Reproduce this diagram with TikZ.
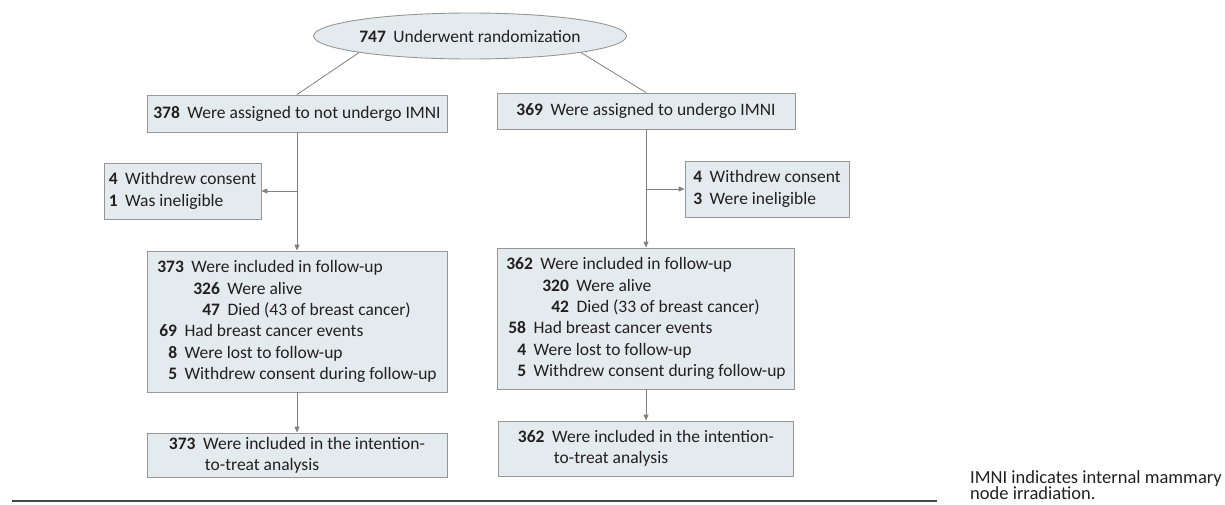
\documentclass[tikz,border=0pt]{standalone}
\usepackage{fontspec}
\setmainfont{Carlito}
\usetikzlibrary{shapes.geometric,arrows.meta}
\definecolor{boxfill}{RGB}{228,235,238}
\definecolor{boxline}{RGB}{150,150,150}
\definecolor{arrline}{RGB}{128,128,128}
\definecolor{rulegray}{RGB}{70,70,70}
\definecolor{txt}{RGB}{35,31,32}
\newcommand{\cnt}[1]{\textbf{#1}\hspace{7.5pt}}

\begin{document}
\begin{tikzpicture}[x=1pt,y=-1pt,
  every node/.style={font=\fontsize{17.5}{21.3}\selectfont,text=txt},
  box/.style={draw=boxline,fill=boxfill,line width=0.9pt,inner sep=0pt,align=left},
  arr/.style={draw=arrline,line width=0.9pt,-{Triangle[length=6pt,width=5pt]}},
  link/.style={draw=arrline,line width=0.8pt}]
 \useasboundingbox (0,0) rectangle (1225,504);
 % randomization
 \node[box,ellipse,minimum width=256pt,minimum height=46pt] (rand) at (470,36) {\cnt{747}Underwent randomization};
 % the two arms
 \node[box,align=center,minimum width=300pt,minimum height=37pt] (armA) at (297,113.5) {\cnt{378}Were assigned to not undergo IMNI};
 \node[box,align=center,minimum width=298pt,minimum height=36pt] (armB) at (646,111) {\cnt{369}Were assigned to undergo IMNI};
 % exclusions
 \node[box,minimum width=157pt,minimum height=56pt] (exclA) at (182.5,191) {\cnt{4}Withdrew consent\\\cnt{1}Was ineligible};
 \node[box,minimum width=164pt,minimum height=56pt] (exclB) at (767,189) {\cnt{4}Withdrew consent\\\cnt{3}Were ineligible};
 % follow-up
 \node[box,minimum width=300pt,minimum height=141pt] (folA) at (297,321.5) {\cnt{373}Were included in follow-up\\
   \hspace{36pt}\cnt{326}Were alive\\
   \hspace{45pt}\cnt{47}Died (43 of breast cancer)\\
   \hspace{2pt}\cnt{69}Had breast cancer events\\
   \hspace{11pt}\cnt{8}Were lost to follow-up\\
   \hspace{11pt}\cnt{5}Withdrew consent during follow-up};
 \node[box,minimum width=297pt,minimum height=141pt] (folB) at (646,318.5) {\cnt{362}Were included in follow-up\\
   \hspace{36pt}\cnt{320}Were alive\\
   \hspace{45pt}\cnt{42}Died (33 of breast cancer)\\
   \hspace{2pt}\cnt{58}Had breast cancer events\\
   \hspace{11pt}\cnt{4}Were lost to follow-up\\
   \hspace{11pt}\cnt{5}Withdrew consent during follow-up};
 % analysis
 \node[box,minimum width=300pt,minimum height=44pt] (ittA) at (297,455) {\cnt{373}Were included in the intention-\\
   \hspace{36pt}to-treat analysis};
 \node[box,minimum width=295pt,minimum height=55pt] (ittB) at (646,448.5) {\cnt{362}Were included in the intention-\\
   \hspace{36pt}to-treat analysis};
 % connectors
 \draw[link] (rand.south west) -- (armA.north);
 \draw[link] (rand.south east) -- (armB.north);
 \draw[arr] (armA.south) -- (folA.north);
 \draw[arr] (armA.south |- exclA.east) -- (exclA.east);
 \draw[arr] (armB.south) -- (folB.north);
 \draw[arr] (armB.south |- exclB.west) -- (exclB.west);
 \draw[arr] (folA.south) -- (ittA.north);
 \draw[arr] (folB.south) -- (ittB.north);
 % rule and note
 \draw[rulegray,line width=2pt] (12,501) -- (937,501);
 \node[anchor=north west,align=left,inner sep=0pt,font=\fontsize{18.5}{15.5}\selectfont] (note) at (970,470) {IMNI indicates internal mammary\\node irradiation.};
\end{tikzpicture}
\end{document}
